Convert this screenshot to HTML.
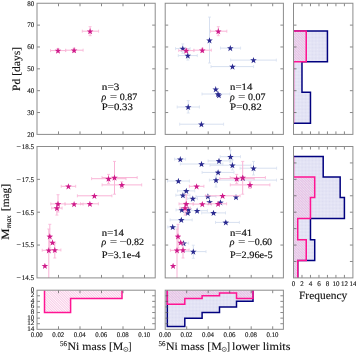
<!DOCTYPE html>
<html><head><meta charset="utf-8"><style>
html,body{margin:0;padding:0;background:#fff;width:356px;height:353px;overflow:hidden;font-family:"Liberation Serif",serif;}
svg{position:absolute;left:0;top:0;display:block;}
</style></head><body>
<svg width="356" height="353" viewBox="0 0 356 353" text-rendering="geometricPrecision"><g opacity="0.999">
<defs>
<pattern id="hp" patternUnits="userSpaceOnUse" width="1.8" height="1.8" patternTransform="rotate(-45)">
<rect width="1.8" height="1.8" fill="#ffbee1" fill-opacity="0.15"/><rect width="0.8" height="1.8" fill="#f096cd" fill-opacity="0.5"/></pattern>
<pattern id="hb" patternUnits="userSpaceOnUse" width="2.0" height="2.0" patternTransform="rotate(45)">
<rect width="2.0" height="2.0" fill="#eaeaf8"/><rect width="1" height="1" fill="#dcdcf1"/><rect x="1" y="1" width="1" height="1" fill="#dcdcf1"/></pattern>
<path id="st" d="M0.00,-3.15 L0.81,-0.82 L3.28,-0.77 L1.31,0.73 L2.03,3.09 L0.00,1.68 L-2.03,3.09 L-1.31,0.73 L-3.28,-0.77 L-0.81,-0.82 Z"/>
</defs>
<clipPath id="c13"><rect x="293.5" y="3.25" width="59.4" height="131.15"/></clipPath>
<clipPath id="c23"><rect x="293.5" y="146.5" width="59.4" height="131.4"/></clipPath>
<clipPath id="c31"><rect x="37.0" y="290.2" width="118.2" height="39.1"/></clipPath>
<clipPath id="c32"><rect x="165.2" y="290.2" width="118.2" height="39.1"/></clipPath>
<g clip-path="url(#c13)">
<path d="M293.5,31 L327.44,31 L327.44,61.8 L301.99,61.8 L301.99,92.3 L310.47,92.3 L310.47,123.3 L293.5,123.3 Z" fill="url(#hb)" stroke="none"/>
<path d="M293.5,31 L327.44,31 L327.44,61.8 L301.99,61.8 L301.99,92.3 L310.47,92.3 L310.47,123.3 L293.5,123.3" fill="none" stroke="#00007f" stroke-width="1.5" stroke-linejoin="miter"/>
<path d="M293.5,31 L306.23,31 L306.23,61.8 L293.5,61.8 L293.5,92.3 L293.5,92.3 L293.5,123.3 L293.5,123.3 Z" fill="url(#hp)" stroke="none"/>
<path d="M293.5,31 L306.23,31 L306.23,61.8 L293.5,61.8 L293.5,92.3 L293.5,92.3 L293.5,123.3 L293.5,123.3" fill="none" stroke="#ff1493" stroke-width="1.5" stroke-linejoin="miter"/>
</g>
<g clip-path="url(#c23)">
<path d="M293.5,156.5 L323.2,156.5 L323.2,177.1 L340.17,177.1 L340.17,197.6 L344.41,197.6 L344.41,218.5 L310.47,218.5 L310.47,239.8 L314.71,239.8 L314.71,260.6 L297.74,260.6 L297.74,281.4 L293.5,281.4 Z" fill="url(#hb)" stroke="none"/>
<path d="M293.5,156.5 L323.2,156.5 L323.2,177.1 L340.17,177.1 L340.17,197.6 L344.41,197.6 L344.41,218.5 L310.47,218.5 L310.47,239.8 L314.71,239.8 L314.71,260.6 L297.74,260.6 L297.74,281.4 L293.5,281.4" fill="none" stroke="#00007f" stroke-width="1.5" stroke-linejoin="miter"/>
<path d="M293.5,156.5 L293.5,156.5 L293.5,177.1 L314.71,177.1 L314.71,197.6 L310.47,197.6 L310.47,218.5 L297.74,218.5 L297.74,239.8 L306.23,239.8 L306.23,260.6 L297.74,260.6 L297.74,281.4 L293.5,281.4 Z" fill="url(#hp)" stroke="none"/>
<path d="M293.5,156.5 L293.5,156.5 L293.5,177.1 L314.71,177.1 L314.71,197.6 L310.47,197.6 L310.47,218.5 L297.74,218.5 L297.74,239.8 L306.23,239.8 L306.23,260.6 L297.74,260.6 L297.74,281.4 L293.5,281.4" fill="none" stroke="#ff1493" stroke-width="1.5" stroke-linejoin="miter"/>
</g>
<g clip-path="url(#c31)">
<path d="M44.5,290.2 L44.5,312.54 L70.6,312.54 L70.6,298.58 L96.5,298.58 L96.5,298.58 L122,298.58 L122,290.2 Z" fill="url(#hp)" stroke="none"/>
<path d="M44.5,290.2 L44.5,312.54 L70.6,312.54 L70.6,298.58 L96.5,298.58 L96.5,298.58 L122,298.58 L122,290.2" fill="none" stroke="#ff1493" stroke-width="1.5" stroke-linejoin="miter"/>
</g>
<g clip-path="url(#c32)">
<path d="M167.3,290.2 L167.3,326.51 L184.8,326.51 L184.8,318.13 L202.1,318.13 L202.1,312.54 L219.5,312.54 L219.5,306.96 L236.5,306.96 L236.5,301.37 L253,301.37 L253,290.2 Z" fill="url(#hb)" stroke="none"/>
<path d="M167.3,290.2 L167.3,326.51 L184.8,326.51 L184.8,318.13 L202.1,318.13 L202.1,312.54 L219.5,312.54 L219.5,306.96 L236.5,306.96 L236.5,301.37 L253,301.37 L253,290.2" fill="none" stroke="#00007f" stroke-width="1.5" stroke-linejoin="miter"/>
<path d="M167.3,290.2 L167.3,304.16 L184.8,304.16 L184.8,298.58 L202.1,298.58 L202.1,295.79 L219.5,295.79 L219.5,292.99 L236.5,292.99 L236.5,298.58 L253,298.58 L253,290.2 Z" fill="url(#hp)" stroke="none"/>
<path d="M167.3,290.2 L167.3,304.16 L184.8,304.16 L184.8,298.58 L202.1,298.58 L202.1,295.79 L219.5,295.79 L219.5,292.99 L236.5,292.99 L236.5,298.58 L253,298.58 L253,290.2" fill="none" stroke="#ff1493" stroke-width="1.5" stroke-linejoin="miter"/>
</g>
<clipPath id="c11"><rect x="37.0" y="3.25" width="118.2" height="131.15"/></clipPath>
<clipPath id="c12"><rect x="165.2" y="3.25" width="118.2" height="131.15"/></clipPath>
<clipPath id="c21"><rect x="37.0" y="146.5" width="118.2" height="131.4"/></clipPath>
<clipPath id="c22"><rect x="165.2" y="146.5" width="118.2" height="131.4"/></clipPath>
<g clip-path="url(#c11)">
<line x1="50.5" y1="50.6" x2="65.7" y2="50.6" stroke="#f9b3d6" stroke-width="1.0"/>
<line x1="50.5" y1="49.1" x2="50.5" y2="52.1" stroke="#f9b3d6" stroke-width="0.8"/>
<line x1="65.7" y1="49.1" x2="65.7" y2="52.1" stroke="#f9b3d6" stroke-width="0.8"/>
<line x1="58" y1="48.6" x2="58" y2="52.6" stroke="#f9b3d6" stroke-width="1.0"/>
<line x1="56.5" y1="48.6" x2="59.5" y2="48.6" stroke="#f9b3d6" stroke-width="0.8"/>
<line x1="56.5" y1="52.6" x2="59.5" y2="52.6" stroke="#f9b3d6" stroke-width="0.8"/>
<line x1="65.7" y1="50.2" x2="83.1" y2="50.2" stroke="#f9b3d6" stroke-width="1.0"/>
<line x1="65.7" y1="48.7" x2="65.7" y2="51.7" stroke="#f9b3d6" stroke-width="0.8"/>
<line x1="83.1" y1="48.7" x2="83.1" y2="51.7" stroke="#f9b3d6" stroke-width="0.8"/>
<line x1="74.1" y1="48.2" x2="74.1" y2="52.2" stroke="#f9b3d6" stroke-width="1.0"/>
<line x1="72.6" y1="48.2" x2="75.6" y2="48.2" stroke="#f9b3d6" stroke-width="0.8"/>
<line x1="72.6" y1="52.2" x2="75.6" y2="52.2" stroke="#f9b3d6" stroke-width="0.8"/>
<line x1="82.3" y1="31.2" x2="98.6" y2="31.2" stroke="#f9b3d6" stroke-width="1.0"/>
<line x1="82.3" y1="29.7" x2="82.3" y2="32.7" stroke="#f9b3d6" stroke-width="0.8"/>
<line x1="98.6" y1="29.7" x2="98.6" y2="32.7" stroke="#f9b3d6" stroke-width="0.8"/>
<line x1="90.1" y1="26.7" x2="90.1" y2="35.7" stroke="#f9b3d6" stroke-width="1.0"/>
<line x1="88.6" y1="26.7" x2="91.6" y2="26.7" stroke="#f9b3d6" stroke-width="0.8"/>
<line x1="88.6" y1="35.7" x2="91.6" y2="35.7" stroke="#f9b3d6" stroke-width="0.8"/>
<use href="#st" x="58" y="50.6" fill="#cf1a8a"/>
<use href="#st" x="74.1" y="50.2" fill="#cf1a8a"/>
<use href="#st" x="90.1" y="31.2" fill="#cf1a8a"/>
</g><g clip-path="url(#c12)">
<line x1="175.5" y1="48.6" x2="190.1" y2="48.6" stroke="#d7e0f0" stroke-width="1.0"/>
<line x1="175.5" y1="47.1" x2="175.5" y2="50.1" stroke="#d7e0f0" stroke-width="0.8"/>
<line x1="190.1" y1="47.1" x2="190.1" y2="50.1" stroke="#d7e0f0" stroke-width="0.8"/>
<line x1="182.8" y1="43.9" x2="182.8" y2="53.3" stroke="#d7e0f0" stroke-width="1.0"/>
<line x1="181.3" y1="43.9" x2="184.3" y2="43.9" stroke="#d7e0f0" stroke-width="0.8"/>
<line x1="181.3" y1="53.3" x2="184.3" y2="53.3" stroke="#d7e0f0" stroke-width="0.8"/>
<line x1="178.3" y1="55.6" x2="197.3" y2="55.6" stroke="#d7e0f0" stroke-width="1.0"/>
<line x1="178.3" y1="54.1" x2="178.3" y2="57.1" stroke="#d7e0f0" stroke-width="0.8"/>
<line x1="197.3" y1="54.1" x2="197.3" y2="57.1" stroke="#d7e0f0" stroke-width="0.8"/>
<line x1="187.8" y1="51" x2="187.8" y2="60.1" stroke="#d7e0f0" stroke-width="1.0"/>
<line x1="186.3" y1="51" x2="189.3" y2="51" stroke="#d7e0f0" stroke-width="0.8"/>
<line x1="186.3" y1="60.1" x2="189.3" y2="60.1" stroke="#d7e0f0" stroke-width="0.8"/>
<line x1="209.5" y1="17.1" x2="209.5" y2="63" stroke="#d7e0f0" stroke-width="1.0"/>
<line x1="208" y1="17.1" x2="211" y2="17.1" stroke="#d7e0f0" stroke-width="0.8"/>
<line x1="208" y1="63" x2="211" y2="63" stroke="#d7e0f0" stroke-width="0.8"/>
<line x1="220.5" y1="48.1" x2="240.6" y2="48.1" stroke="#d7e0f0" stroke-width="1.0"/>
<line x1="220.5" y1="46.6" x2="220.5" y2="49.6" stroke="#d7e0f0" stroke-width="0.8"/>
<line x1="240.6" y1="46.6" x2="240.6" y2="49.6" stroke="#d7e0f0" stroke-width="0.8"/>
<line x1="230.7" y1="60.1" x2="276.3" y2="60.1" stroke="#d7e0f0" stroke-width="1.0"/>
<line x1="230.7" y1="58.6" x2="230.7" y2="61.6" stroke="#d7e0f0" stroke-width="0.8"/>
<line x1="276.3" y1="58.6" x2="276.3" y2="61.6" stroke="#d7e0f0" stroke-width="0.8"/>
<line x1="211" y1="66.6" x2="253.6" y2="66.6" stroke="#d7e0f0" stroke-width="1.0"/>
<line x1="211" y1="65.1" x2="211" y2="68.1" stroke="#d7e0f0" stroke-width="0.8"/>
<line x1="253.6" y1="65.1" x2="253.6" y2="68.1" stroke="#d7e0f0" stroke-width="0.8"/>
<line x1="202" y1="94" x2="229.9" y2="94" stroke="#d7e0f0" stroke-width="1.0"/>
<line x1="202" y1="92.5" x2="202" y2="95.5" stroke="#d7e0f0" stroke-width="0.8"/>
<line x1="229.9" y1="92.5" x2="229.9" y2="95.5" stroke="#d7e0f0" stroke-width="0.8"/>
<line x1="177.2" y1="107" x2="199.4" y2="107" stroke="#d7e0f0" stroke-width="1.0"/>
<line x1="177.2" y1="105.5" x2="177.2" y2="108.5" stroke="#d7e0f0" stroke-width="0.8"/>
<line x1="199.4" y1="105.5" x2="199.4" y2="108.5" stroke="#d7e0f0" stroke-width="0.8"/>
<line x1="188.2" y1="100.6" x2="188.2" y2="113" stroke="#d7e0f0" stroke-width="1.0"/>
<line x1="186.7" y1="100.6" x2="189.7" y2="100.6" stroke="#d7e0f0" stroke-width="0.8"/>
<line x1="186.7" y1="113" x2="189.7" y2="113" stroke="#d7e0f0" stroke-width="0.8"/>
<line x1="179.7" y1="124.2" x2="223.6" y2="124.2" stroke="#d7e0f0" stroke-width="1.0"/>
<line x1="179.7" y1="122.7" x2="179.7" y2="125.7" stroke="#d7e0f0" stroke-width="0.8"/>
<line x1="223.6" y1="122.7" x2="223.6" y2="125.7" stroke="#d7e0f0" stroke-width="0.8"/>
<use href="#st" x="182.8" y="48.6" fill="#2a2a90"/>
<use href="#st" x="187.8" y="55.6" fill="#2a2a90"/>
<use href="#st" x="209.5" y="40.3" fill="#2a2a90"/>
<use href="#st" x="230.3" y="48.1" fill="#2a2a90"/>
<use href="#st" x="253.5" y="60.1" fill="#2a2a90"/>
<use href="#st" x="232.5" y="66.6" fill="#2a2a90"/>
<use href="#st" x="215.7" y="89.2" fill="#2a2a90"/>
<use href="#st" x="218" y="94" fill="#2a2a90"/>
<use href="#st" x="218.9" y="95.2" fill="#2a2a90"/>
<use href="#st" x="188.2" y="107" fill="#2a2a90"/>
<use href="#st" x="201.4" y="124.2" fill="#2a2a90"/>
<line x1="178.7" y1="50.6" x2="193.9" y2="50.6" stroke="#f9b3d6" stroke-width="1.0"/>
<line x1="178.7" y1="49.1" x2="178.7" y2="52.1" stroke="#f9b3d6" stroke-width="0.8"/>
<line x1="193.9" y1="49.1" x2="193.9" y2="52.1" stroke="#f9b3d6" stroke-width="0.8"/>
<line x1="186.2" y1="48.6" x2="186.2" y2="52.6" stroke="#f9b3d6" stroke-width="1.0"/>
<line x1="184.7" y1="48.6" x2="187.7" y2="48.6" stroke="#f9b3d6" stroke-width="0.8"/>
<line x1="184.7" y1="52.6" x2="187.7" y2="52.6" stroke="#f9b3d6" stroke-width="0.8"/>
<line x1="193.9" y1="50.2" x2="211.3" y2="50.2" stroke="#f9b3d6" stroke-width="1.0"/>
<line x1="193.9" y1="48.7" x2="193.9" y2="51.7" stroke="#f9b3d6" stroke-width="0.8"/>
<line x1="211.3" y1="48.7" x2="211.3" y2="51.7" stroke="#f9b3d6" stroke-width="0.8"/>
<line x1="202.3" y1="48.2" x2="202.3" y2="52.2" stroke="#f9b3d6" stroke-width="1.0"/>
<line x1="200.8" y1="48.2" x2="203.8" y2="48.2" stroke="#f9b3d6" stroke-width="0.8"/>
<line x1="200.8" y1="52.2" x2="203.8" y2="52.2" stroke="#f9b3d6" stroke-width="0.8"/>
<line x1="210.5" y1="31.2" x2="226.8" y2="31.2" stroke="#f9b3d6" stroke-width="1.0"/>
<line x1="210.5" y1="29.7" x2="210.5" y2="32.7" stroke="#f9b3d6" stroke-width="0.8"/>
<line x1="226.8" y1="29.7" x2="226.8" y2="32.7" stroke="#f9b3d6" stroke-width="0.8"/>
<line x1="218.3" y1="26.7" x2="218.3" y2="35.7" stroke="#f9b3d6" stroke-width="1.0"/>
<line x1="216.8" y1="26.7" x2="219.8" y2="26.7" stroke="#f9b3d6" stroke-width="0.8"/>
<line x1="216.8" y1="35.7" x2="219.8" y2="35.7" stroke="#f9b3d6" stroke-width="0.8"/>
<use href="#st" x="186.2" y="50.6" fill="#cf1a8a"/>
<use href="#st" x="202.3" y="50.2" fill="#cf1a8a"/>
<use href="#st" x="218.3" y="31.2" fill="#cf1a8a"/>
</g><g clip-path="url(#c21)">
<line x1="61.2" y1="186.3" x2="75.7" y2="186.3" stroke="#f9b3d6" stroke-width="1.0"/>
<line x1="61.2" y1="184.8" x2="61.2" y2="187.8" stroke="#f9b3d6" stroke-width="0.8"/>
<line x1="75.7" y1="184.8" x2="75.7" y2="187.8" stroke="#f9b3d6" stroke-width="0.8"/>
<line x1="50.8" y1="203.9" x2="65" y2="203.9" stroke="#f9b3d6" stroke-width="1.0"/>
<line x1="50.8" y1="202.4" x2="50.8" y2="205.4" stroke="#f9b3d6" stroke-width="0.8"/>
<line x1="65" y1="202.4" x2="65" y2="205.4" stroke="#f9b3d6" stroke-width="0.8"/>
<line x1="58" y1="194.7" x2="58" y2="212" stroke="#f9b3d6" stroke-width="1.0"/>
<line x1="56.5" y1="194.7" x2="59.5" y2="194.7" stroke="#f9b3d6" stroke-width="0.8"/>
<line x1="56.5" y1="212" x2="59.5" y2="212" stroke="#f9b3d6" stroke-width="0.8"/>
<line x1="51.7" y1="208.1" x2="62.1" y2="208.1" stroke="#f9b3d6" stroke-width="1.0"/>
<line x1="51.7" y1="206.6" x2="51.7" y2="209.6" stroke="#f9b3d6" stroke-width="0.8"/>
<line x1="62.1" y1="206.6" x2="62.1" y2="209.6" stroke="#f9b3d6" stroke-width="0.8"/>
<line x1="56.9" y1="203" x2="56.9" y2="215.1" stroke="#f9b3d6" stroke-width="1.0"/>
<line x1="55.4" y1="203" x2="58.4" y2="203" stroke="#f9b3d6" stroke-width="0.8"/>
<line x1="55.4" y1="215.1" x2="58.4" y2="215.1" stroke="#f9b3d6" stroke-width="0.8"/>
<line x1="65" y1="204.1" x2="83.1" y2="204.1" stroke="#f9b3d6" stroke-width="1.0"/>
<line x1="65" y1="202.6" x2="65" y2="205.6" stroke="#f9b3d6" stroke-width="0.8"/>
<line x1="83.1" y1="202.6" x2="83.1" y2="205.6" stroke="#f9b3d6" stroke-width="0.8"/>
<line x1="80.5" y1="203.8" x2="98.4" y2="203.8" stroke="#f9b3d6" stroke-width="1.0"/>
<line x1="80.5" y1="202.3" x2="80.5" y2="205.3" stroke="#f9b3d6" stroke-width="0.8"/>
<line x1="98.4" y1="202.3" x2="98.4" y2="205.3" stroke="#f9b3d6" stroke-width="0.8"/>
<line x1="77.4" y1="195.8" x2="111.9" y2="195.8" stroke="#f9b3d6" stroke-width="1.0"/>
<line x1="77.4" y1="194.3" x2="77.4" y2="197.3" stroke="#f9b3d6" stroke-width="0.8"/>
<line x1="111.9" y1="194.3" x2="111.9" y2="197.3" stroke="#f9b3d6" stroke-width="0.8"/>
<line x1="91.6" y1="178.7" x2="126" y2="178.7" stroke="#f9b3d6" stroke-width="1.0"/>
<line x1="91.6" y1="177.2" x2="91.6" y2="180.2" stroke="#f9b3d6" stroke-width="0.8"/>
<line x1="126" y1="177.2" x2="126" y2="180.2" stroke="#f9b3d6" stroke-width="0.8"/>
<line x1="108.5" y1="174.4" x2="108.5" y2="183.4" stroke="#f9b3d6" stroke-width="1.0"/>
<line x1="107" y1="174.4" x2="110" y2="174.4" stroke="#f9b3d6" stroke-width="0.8"/>
<line x1="107" y1="183.4" x2="110" y2="183.4" stroke="#f9b3d6" stroke-width="0.8"/>
<line x1="102" y1="177.6" x2="137.2" y2="177.6" stroke="#f9b3d6" stroke-width="1.0"/>
<line x1="102" y1="176.1" x2="102" y2="179.1" stroke="#f9b3d6" stroke-width="0.8"/>
<line x1="137.2" y1="176.1" x2="137.2" y2="179.1" stroke="#f9b3d6" stroke-width="0.8"/>
<line x1="114.5" y1="161.4" x2="114.5" y2="194.2" stroke="#f9b3d6" stroke-width="1.0"/>
<line x1="113" y1="161.4" x2="116" y2="161.4" stroke="#f9b3d6" stroke-width="0.8"/>
<line x1="113" y1="194.2" x2="116" y2="194.2" stroke="#f9b3d6" stroke-width="0.8"/>
<line x1="102.1" y1="184.9" x2="141.7" y2="184.9" stroke="#f9b3d6" stroke-width="1.0"/>
<line x1="102.1" y1="183.4" x2="102.1" y2="186.4" stroke="#f9b3d6" stroke-width="0.8"/>
<line x1="141.7" y1="183.4" x2="141.7" y2="186.4" stroke="#f9b3d6" stroke-width="0.8"/>
<line x1="121.8" y1="181.7" x2="121.8" y2="188.4" stroke="#f9b3d6" stroke-width="1.0"/>
<line x1="120.3" y1="181.7" x2="123.3" y2="181.7" stroke="#f9b3d6" stroke-width="0.8"/>
<line x1="120.3" y1="188.4" x2="123.3" y2="188.4" stroke="#f9b3d6" stroke-width="0.8"/>
<line x1="49.8" y1="224.3" x2="49.8" y2="248" stroke="#f9b3d6" stroke-width="1.0"/>
<line x1="48.3" y1="224.3" x2="51.3" y2="224.3" stroke="#f9b3d6" stroke-width="0.8"/>
<line x1="48.3" y1="248" x2="51.3" y2="248" stroke="#f9b3d6" stroke-width="0.8"/>
<line x1="42.2" y1="250.3" x2="55" y2="250.3" stroke="#f9b3d6" stroke-width="1.0"/>
<line x1="42.2" y1="248.8" x2="42.2" y2="251.8" stroke="#f9b3d6" stroke-width="0.8"/>
<line x1="55" y1="248.8" x2="55" y2="251.8" stroke="#f9b3d6" stroke-width="0.8"/>
<line x1="48.8" y1="229" x2="48.8" y2="281" stroke="#f9b3d6" stroke-width="1.0"/>
<line x1="47.3" y1="229" x2="50.3" y2="229" stroke="#f9b3d6" stroke-width="0.8"/>
<line x1="47.3" y1="281" x2="50.3" y2="281" stroke="#f9b3d6" stroke-width="0.8"/>
<line x1="48" y1="250" x2="60.9" y2="250" stroke="#f9b3d6" stroke-width="1.0"/>
<line x1="48" y1="248.5" x2="48" y2="251.5" stroke="#f9b3d6" stroke-width="0.8"/>
<line x1="60.9" y1="248.5" x2="60.9" y2="251.5" stroke="#f9b3d6" stroke-width="0.8"/>
<line x1="54.8" y1="243" x2="54.8" y2="258" stroke="#f9b3d6" stroke-width="1.0"/>
<line x1="53.3" y1="243" x2="56.3" y2="243" stroke="#f9b3d6" stroke-width="0.8"/>
<line x1="53.3" y1="258" x2="56.3" y2="258" stroke="#f9b3d6" stroke-width="0.8"/>
<use href="#st" x="68.4" y="186.3" fill="#cf1a8a"/>
<use href="#st" x="58" y="203.9" fill="#cf1a8a"/>
<use href="#st" x="56.9" y="208.1" fill="#cf1a8a"/>
<use href="#st" x="74.1" y="204.1" fill="#cf1a8a"/>
<use href="#st" x="89.9" y="203.8" fill="#cf1a8a"/>
<use href="#st" x="94.4" y="195.8" fill="#cf1a8a"/>
<use href="#st" x="108.5" y="178.7" fill="#cf1a8a"/>
<use href="#st" x="114.5" y="177.6" fill="#cf1a8a"/>
<use href="#st" x="121.8" y="184.9" fill="#cf1a8a"/>
<use href="#st" x="49.8" y="236.4" fill="#cf1a8a"/>
<use href="#st" x="52.5" y="242.5" fill="#cf1a8a"/>
<use href="#st" x="48.8" y="250.3" fill="#cf1a8a"/>
<use href="#st" x="54.8" y="250" fill="#cf1a8a"/>
<use href="#st" x="44.9" y="265.8" fill="#cf1a8a"/>
</g><g clip-path="url(#c22)">
<line x1="174.6" y1="159.2" x2="185.6" y2="159.2" stroke="#d7e0f0" stroke-width="1.0"/>
<line x1="174.6" y1="157.7" x2="174.6" y2="160.7" stroke="#d7e0f0" stroke-width="0.8"/>
<line x1="185.6" y1="157.7" x2="185.6" y2="160.7" stroke="#d7e0f0" stroke-width="0.8"/>
<line x1="180.3" y1="164" x2="222.9" y2="164" stroke="#d7e0f0" stroke-width="1.0"/>
<line x1="180.3" y1="162.5" x2="180.3" y2="165.5" stroke="#d7e0f0" stroke-width="0.8"/>
<line x1="222.9" y1="162.5" x2="222.9" y2="165.5" stroke="#d7e0f0" stroke-width="0.8"/>
<line x1="167.5" y1="181" x2="189.4" y2="181" stroke="#d7e0f0" stroke-width="1.0"/>
<line x1="167.5" y1="179.5" x2="167.5" y2="182.5" stroke="#d7e0f0" stroke-width="0.8"/>
<line x1="189.4" y1="179.5" x2="189.4" y2="182.5" stroke="#d7e0f0" stroke-width="0.8"/>
<line x1="208.1" y1="160.9" x2="230" y2="160.9" stroke="#d7e0f0" stroke-width="1.0"/>
<line x1="208.1" y1="159.4" x2="208.1" y2="162.4" stroke="#d7e0f0" stroke-width="0.8"/>
<line x1="230" y1="159.4" x2="230" y2="162.4" stroke="#d7e0f0" stroke-width="0.8"/>
<line x1="220.2" y1="156.7" x2="240.5" y2="156.7" stroke="#d7e0f0" stroke-width="1.0"/>
<line x1="220.2" y1="155.2" x2="220.2" y2="158.2" stroke="#d7e0f0" stroke-width="0.8"/>
<line x1="240.5" y1="155.2" x2="240.5" y2="158.2" stroke="#d7e0f0" stroke-width="0.8"/>
<line x1="230.5" y1="150" x2="230.5" y2="162" stroke="#d7e0f0" stroke-width="1.0"/>
<line x1="229" y1="150" x2="232" y2="150" stroke="#d7e0f0" stroke-width="0.8"/>
<line x1="229" y1="162" x2="232" y2="162" stroke="#d7e0f0" stroke-width="0.8"/>
<line x1="210" y1="165.2" x2="251" y2="165.2" stroke="#d7e0f0" stroke-width="1.0"/>
<line x1="210" y1="163.7" x2="210" y2="166.7" stroke="#d7e0f0" stroke-width="0.8"/>
<line x1="251" y1="163.7" x2="251" y2="166.7" stroke="#d7e0f0" stroke-width="0.8"/>
<line x1="232.4" y1="160" x2="232.4" y2="170" stroke="#d7e0f0" stroke-width="1.0"/>
<line x1="230.9" y1="160" x2="233.9" y2="160" stroke="#d7e0f0" stroke-width="0.8"/>
<line x1="230.9" y1="170" x2="233.9" y2="170" stroke="#d7e0f0" stroke-width="0.8"/>
<line x1="202.1" y1="172.4" x2="234" y2="172.4" stroke="#d7e0f0" stroke-width="1.0"/>
<line x1="202.1" y1="170.9" x2="202.1" y2="173.9" stroke="#d7e0f0" stroke-width="0.8"/>
<line x1="234" y1="170.9" x2="234" y2="173.9" stroke="#d7e0f0" stroke-width="0.8"/>
<line x1="209.4" y1="180.1" x2="276.5" y2="180.1" stroke="#d7e0f0" stroke-width="1.0"/>
<line x1="209.4" y1="178.6" x2="209.4" y2="181.6" stroke="#d7e0f0" stroke-width="0.8"/>
<line x1="276.5" y1="178.6" x2="276.5" y2="181.6" stroke="#d7e0f0" stroke-width="0.8"/>
<line x1="216" y1="176" x2="216" y2="187" stroke="#d7e0f0" stroke-width="1.0"/>
<line x1="214.5" y1="176" x2="217.5" y2="176" stroke="#d7e0f0" stroke-width="0.8"/>
<line x1="214.5" y1="187" x2="217.5" y2="187" stroke="#d7e0f0" stroke-width="0.8"/>
<line x1="240" y1="168.2" x2="276.6" y2="168.2" stroke="#d7e0f0" stroke-width="1.0"/>
<line x1="240" y1="166.7" x2="240" y2="169.7" stroke="#d7e0f0" stroke-width="0.8"/>
<line x1="276.6" y1="166.7" x2="276.6" y2="169.7" stroke="#d7e0f0" stroke-width="0.8"/>
<line x1="253.5" y1="161.4" x2="253.5" y2="175" stroke="#d7e0f0" stroke-width="1.0"/>
<line x1="252" y1="161.4" x2="255" y2="161.4" stroke="#d7e0f0" stroke-width="0.8"/>
<line x1="252" y1="175" x2="255" y2="175" stroke="#d7e0f0" stroke-width="0.8"/>
<line x1="177.5" y1="190.9" x2="194.7" y2="190.9" stroke="#d7e0f0" stroke-width="1.0"/>
<line x1="177.5" y1="189.4" x2="177.5" y2="192.4" stroke="#d7e0f0" stroke-width="0.8"/>
<line x1="194.7" y1="189.4" x2="194.7" y2="192.4" stroke="#d7e0f0" stroke-width="0.8"/>
<line x1="175.8" y1="195.2" x2="190" y2="195.2" stroke="#d7e0f0" stroke-width="1.0"/>
<line x1="175.8" y1="193.7" x2="175.8" y2="196.7" stroke="#d7e0f0" stroke-width="0.8"/>
<line x1="190" y1="193.7" x2="190" y2="196.7" stroke="#d7e0f0" stroke-width="0.8"/>
<line x1="187.7" y1="198.6" x2="197.5" y2="198.6" stroke="#d7e0f0" stroke-width="1.0"/>
<line x1="187.7" y1="197.1" x2="187.7" y2="200.1" stroke="#d7e0f0" stroke-width="0.8"/>
<line x1="197.5" y1="197.1" x2="197.5" y2="200.1" stroke="#d7e0f0" stroke-width="0.8"/>
<line x1="176" y1="209.9" x2="188" y2="209.9" stroke="#d7e0f0" stroke-width="1.0"/>
<line x1="176" y1="208.4" x2="176" y2="211.4" stroke="#d7e0f0" stroke-width="0.8"/>
<line x1="188" y1="208.4" x2="188" y2="211.4" stroke="#d7e0f0" stroke-width="0.8"/>
<line x1="188" y1="210.7" x2="207.4" y2="210.7" stroke="#d7e0f0" stroke-width="1.0"/>
<line x1="188" y1="209.2" x2="188" y2="212.2" stroke="#d7e0f0" stroke-width="0.8"/>
<line x1="207.4" y1="209.2" x2="207.4" y2="212.2" stroke="#d7e0f0" stroke-width="0.8"/>
<line x1="170.1" y1="219.9" x2="192.2" y2="219.9" stroke="#d7e0f0" stroke-width="1.0"/>
<line x1="170.1" y1="218.4" x2="170.1" y2="221.4" stroke="#d7e0f0" stroke-width="0.8"/>
<line x1="192.2" y1="218.4" x2="192.2" y2="221.4" stroke="#d7e0f0" stroke-width="0.8"/>
<line x1="167.8" y1="227" x2="178" y2="227" stroke="#d7e0f0" stroke-width="1.0"/>
<line x1="167.8" y1="225.5" x2="167.8" y2="228.5" stroke="#d7e0f0" stroke-width="0.8"/>
<line x1="178" y1="225.5" x2="178" y2="228.5" stroke="#d7e0f0" stroke-width="0.8"/>
<line x1="196" y1="196.4" x2="216" y2="196.4" stroke="#d7e0f0" stroke-width="1.0"/>
<line x1="196" y1="194.9" x2="196" y2="197.9" stroke="#d7e0f0" stroke-width="0.8"/>
<line x1="216" y1="194.9" x2="216" y2="197.9" stroke="#d7e0f0" stroke-width="0.8"/>
<line x1="201.7" y1="212.9" x2="225.5" y2="212.9" stroke="#d7e0f0" stroke-width="1.0"/>
<line x1="201.7" y1="211.4" x2="201.7" y2="214.4" stroke="#d7e0f0" stroke-width="0.8"/>
<line x1="225.5" y1="211.4" x2="225.5" y2="214.4" stroke="#d7e0f0" stroke-width="0.8"/>
<line x1="215.5" y1="222.4" x2="239.4" y2="222.4" stroke="#d7e0f0" stroke-width="1.0"/>
<line x1="215.5" y1="220.9" x2="215.5" y2="223.9" stroke="#d7e0f0" stroke-width="0.8"/>
<line x1="239.4" y1="220.9" x2="239.4" y2="223.9" stroke="#d7e0f0" stroke-width="0.8"/>
<line x1="179" y1="243.2" x2="188.6" y2="243.2" stroke="#d7e0f0" stroke-width="1.0"/>
<line x1="179" y1="241.7" x2="179" y2="244.7" stroke="#d7e0f0" stroke-width="0.8"/>
<line x1="188.6" y1="241.7" x2="188.6" y2="244.7" stroke="#d7e0f0" stroke-width="0.8"/>
<line x1="182" y1="251.6" x2="206" y2="251.6" stroke="#d7e0f0" stroke-width="1.0"/>
<line x1="182" y1="250.1" x2="182" y2="253.1" stroke="#d7e0f0" stroke-width="0.8"/>
<line x1="206" y1="250.1" x2="206" y2="253.1" stroke="#d7e0f0" stroke-width="0.8"/>
<line x1="193.3" y1="245.2" x2="193.3" y2="258.3" stroke="#d7e0f0" stroke-width="1.0"/>
<line x1="191.8" y1="245.2" x2="194.8" y2="245.2" stroke="#d7e0f0" stroke-width="0.8"/>
<line x1="191.8" y1="258.3" x2="194.8" y2="258.3" stroke="#d7e0f0" stroke-width="0.8"/>
<use href="#st" x="180.3" y="159.2" fill="#2a2a90"/>
<use href="#st" x="201.5" y="164" fill="#2a2a90"/>
<use href="#st" x="178.4" y="181" fill="#2a2a90"/>
<use href="#st" x="219" y="160.9" fill="#2a2a90"/>
<use href="#st" x="230.5" y="156.7" fill="#2a2a90"/>
<use href="#st" x="232.4" y="165.2" fill="#2a2a90"/>
<use href="#st" x="218.1" y="172.4" fill="#2a2a90"/>
<use href="#st" x="216" y="180.1" fill="#2a2a90"/>
<use href="#st" x="253.5" y="168.2" fill="#2a2a90"/>
<use href="#st" x="186.3" y="190.9" fill="#2a2a90"/>
<use href="#st" x="182.9" y="195.2" fill="#2a2a90"/>
<use href="#st" x="192.8" y="198.6" fill="#2a2a90"/>
<use href="#st" x="181.8" y="209.9" fill="#2a2a90"/>
<use href="#st" x="188.6" y="209.6" fill="#2a2a90"/>
<use href="#st" x="187.7" y="212.9" fill="#2a2a90"/>
<use href="#st" x="197.1" y="210.7" fill="#2a2a90"/>
<use href="#st" x="181.3" y="219.9" fill="#2a2a90"/>
<use href="#st" x="172.7" y="227" fill="#2a2a90"/>
<use href="#st" x="207.9" y="196.4" fill="#2a2a90"/>
<use href="#st" x="236" y="197.1" fill="#2a2a90"/>
<use href="#st" x="209.6" y="202.1" fill="#2a2a90"/>
<use href="#st" x="220.4" y="202.4" fill="#2a2a90"/>
<use href="#st" x="213.5" y="212.9" fill="#2a2a90"/>
<use href="#st" x="225.8" y="222.4" fill="#2a2a90"/>
<use href="#st" x="183.6" y="243.2" fill="#2a2a90"/>
<use href="#st" x="193.3" y="251.6" fill="#2a2a90"/>
<use href="#st" x="242.8" y="178" fill="#2a2a90"/>
<line x1="189.4" y1="186.3" x2="203.9" y2="186.3" stroke="#f9b3d6" stroke-width="1.0"/>
<line x1="189.4" y1="184.8" x2="189.4" y2="187.8" stroke="#f9b3d6" stroke-width="0.8"/>
<line x1="203.9" y1="184.8" x2="203.9" y2="187.8" stroke="#f9b3d6" stroke-width="0.8"/>
<line x1="179" y1="203.9" x2="193.2" y2="203.9" stroke="#f9b3d6" stroke-width="1.0"/>
<line x1="179" y1="202.4" x2="179" y2="205.4" stroke="#f9b3d6" stroke-width="0.8"/>
<line x1="193.2" y1="202.4" x2="193.2" y2="205.4" stroke="#f9b3d6" stroke-width="0.8"/>
<line x1="186.2" y1="194.7" x2="186.2" y2="212" stroke="#f9b3d6" stroke-width="1.0"/>
<line x1="184.7" y1="194.7" x2="187.7" y2="194.7" stroke="#f9b3d6" stroke-width="0.8"/>
<line x1="184.7" y1="212" x2="187.7" y2="212" stroke="#f9b3d6" stroke-width="0.8"/>
<line x1="179.9" y1="208.1" x2="190.3" y2="208.1" stroke="#f9b3d6" stroke-width="1.0"/>
<line x1="179.9" y1="206.6" x2="179.9" y2="209.6" stroke="#f9b3d6" stroke-width="0.8"/>
<line x1="190.3" y1="206.6" x2="190.3" y2="209.6" stroke="#f9b3d6" stroke-width="0.8"/>
<line x1="185.1" y1="203" x2="185.1" y2="215.1" stroke="#f9b3d6" stroke-width="1.0"/>
<line x1="183.6" y1="203" x2="186.6" y2="203" stroke="#f9b3d6" stroke-width="0.8"/>
<line x1="183.6" y1="215.1" x2="186.6" y2="215.1" stroke="#f9b3d6" stroke-width="0.8"/>
<line x1="193.2" y1="204.1" x2="211.3" y2="204.1" stroke="#f9b3d6" stroke-width="1.0"/>
<line x1="193.2" y1="202.6" x2="193.2" y2="205.6" stroke="#f9b3d6" stroke-width="0.8"/>
<line x1="211.3" y1="202.6" x2="211.3" y2="205.6" stroke="#f9b3d6" stroke-width="0.8"/>
<line x1="208.7" y1="203.8" x2="226.6" y2="203.8" stroke="#f9b3d6" stroke-width="1.0"/>
<line x1="208.7" y1="202.3" x2="208.7" y2="205.3" stroke="#f9b3d6" stroke-width="0.8"/>
<line x1="226.6" y1="202.3" x2="226.6" y2="205.3" stroke="#f9b3d6" stroke-width="0.8"/>
<line x1="205.6" y1="195.8" x2="240.1" y2="195.8" stroke="#f9b3d6" stroke-width="1.0"/>
<line x1="205.6" y1="194.3" x2="205.6" y2="197.3" stroke="#f9b3d6" stroke-width="0.8"/>
<line x1="240.1" y1="194.3" x2="240.1" y2="197.3" stroke="#f9b3d6" stroke-width="0.8"/>
<line x1="219.8" y1="178.7" x2="254.2" y2="178.7" stroke="#f9b3d6" stroke-width="1.0"/>
<line x1="219.8" y1="177.2" x2="219.8" y2="180.2" stroke="#f9b3d6" stroke-width="0.8"/>
<line x1="254.2" y1="177.2" x2="254.2" y2="180.2" stroke="#f9b3d6" stroke-width="0.8"/>
<line x1="236.7" y1="174.4" x2="236.7" y2="183.4" stroke="#f9b3d6" stroke-width="1.0"/>
<line x1="235.2" y1="174.4" x2="238.2" y2="174.4" stroke="#f9b3d6" stroke-width="0.8"/>
<line x1="235.2" y1="183.4" x2="238.2" y2="183.4" stroke="#f9b3d6" stroke-width="0.8"/>
<line x1="230.2" y1="177.6" x2="265.4" y2="177.6" stroke="#f9b3d6" stroke-width="1.0"/>
<line x1="230.2" y1="176.1" x2="230.2" y2="179.1" stroke="#f9b3d6" stroke-width="0.8"/>
<line x1="265.4" y1="176.1" x2="265.4" y2="179.1" stroke="#f9b3d6" stroke-width="0.8"/>
<line x1="242.7" y1="161.4" x2="242.7" y2="194.2" stroke="#f9b3d6" stroke-width="1.0"/>
<line x1="241.2" y1="161.4" x2="244.2" y2="161.4" stroke="#f9b3d6" stroke-width="0.8"/>
<line x1="241.2" y1="194.2" x2="244.2" y2="194.2" stroke="#f9b3d6" stroke-width="0.8"/>
<line x1="230.3" y1="184.9" x2="269.9" y2="184.9" stroke="#f9b3d6" stroke-width="1.0"/>
<line x1="230.3" y1="183.4" x2="230.3" y2="186.4" stroke="#f9b3d6" stroke-width="0.8"/>
<line x1="269.9" y1="183.4" x2="269.9" y2="186.4" stroke="#f9b3d6" stroke-width="0.8"/>
<line x1="250" y1="181.7" x2="250" y2="188.4" stroke="#f9b3d6" stroke-width="1.0"/>
<line x1="248.5" y1="181.7" x2="251.5" y2="181.7" stroke="#f9b3d6" stroke-width="0.8"/>
<line x1="248.5" y1="188.4" x2="251.5" y2="188.4" stroke="#f9b3d6" stroke-width="0.8"/>
<line x1="178" y1="224.3" x2="178" y2="248" stroke="#f9b3d6" stroke-width="1.0"/>
<line x1="176.5" y1="224.3" x2="179.5" y2="224.3" stroke="#f9b3d6" stroke-width="0.8"/>
<line x1="176.5" y1="248" x2="179.5" y2="248" stroke="#f9b3d6" stroke-width="0.8"/>
<line x1="170.4" y1="250.3" x2="183.2" y2="250.3" stroke="#f9b3d6" stroke-width="1.0"/>
<line x1="170.4" y1="248.8" x2="170.4" y2="251.8" stroke="#f9b3d6" stroke-width="0.8"/>
<line x1="183.2" y1="248.8" x2="183.2" y2="251.8" stroke="#f9b3d6" stroke-width="0.8"/>
<line x1="177" y1="229" x2="177" y2="281" stroke="#f9b3d6" stroke-width="1.0"/>
<line x1="175.5" y1="229" x2="178.5" y2="229" stroke="#f9b3d6" stroke-width="0.8"/>
<line x1="175.5" y1="281" x2="178.5" y2="281" stroke="#f9b3d6" stroke-width="0.8"/>
<line x1="176.2" y1="250" x2="189.1" y2="250" stroke="#f9b3d6" stroke-width="1.0"/>
<line x1="176.2" y1="248.5" x2="176.2" y2="251.5" stroke="#f9b3d6" stroke-width="0.8"/>
<line x1="189.1" y1="248.5" x2="189.1" y2="251.5" stroke="#f9b3d6" stroke-width="0.8"/>
<line x1="183" y1="243" x2="183" y2="258" stroke="#f9b3d6" stroke-width="1.0"/>
<line x1="181.5" y1="243" x2="184.5" y2="243" stroke="#f9b3d6" stroke-width="0.8"/>
<line x1="181.5" y1="258" x2="184.5" y2="258" stroke="#f9b3d6" stroke-width="0.8"/>
<use href="#st" x="196.6" y="186.3" fill="#cf1a8a"/>
<use href="#st" x="186.2" y="203.9" fill="#cf1a8a"/>
<use href="#st" x="185.1" y="208.1" fill="#cf1a8a"/>
<use href="#st" x="202.3" y="204.1" fill="#cf1a8a"/>
<use href="#st" x="218.1" y="203.8" fill="#cf1a8a"/>
<use href="#st" x="222.6" y="195.8" fill="#cf1a8a"/>
<use href="#st" x="236.7" y="178.7" fill="#cf1a8a"/>
<use href="#st" x="242.7" y="177.6" fill="#cf1a8a"/>
<use href="#st" x="250" y="184.9" fill="#cf1a8a"/>
<use href="#st" x="178" y="236.4" fill="#cf1a8a"/>
<use href="#st" x="180.7" y="242.5" fill="#cf1a8a"/>
<use href="#st" x="177" y="250.3" fill="#cf1a8a"/>
<use href="#st" x="183" y="250" fill="#cf1a8a"/>
<use href="#st" x="173.1" y="265.8" fill="#cf1a8a"/>
</g>
<line x1="58.5" y1="3.25" x2="58.5" y2="6.25" stroke="#555" stroke-width="0.7"/>
<line x1="58.5" y1="134.4" x2="58.5" y2="131.4" stroke="#555" stroke-width="0.7"/>
<line x1="80" y1="3.25" x2="80" y2="6.25" stroke="#555" stroke-width="0.7"/>
<line x1="80" y1="134.4" x2="80" y2="131.4" stroke="#555" stroke-width="0.7"/>
<line x1="101.5" y1="3.25" x2="101.5" y2="6.25" stroke="#555" stroke-width="0.7"/>
<line x1="101.5" y1="134.4" x2="101.5" y2="131.4" stroke="#555" stroke-width="0.7"/>
<line x1="123" y1="3.25" x2="123" y2="6.25" stroke="#555" stroke-width="0.7"/>
<line x1="123" y1="134.4" x2="123" y2="131.4" stroke="#555" stroke-width="0.7"/>
<line x1="144.5" y1="3.25" x2="144.5" y2="6.25" stroke="#555" stroke-width="0.7"/>
<line x1="144.5" y1="134.4" x2="144.5" y2="131.4" stroke="#555" stroke-width="0.7"/>
<line x1="37" y1="112.54" x2="40" y2="112.54" stroke="#555" stroke-width="0.7"/>
<line x1="155.2" y1="112.54" x2="152.2" y2="112.54" stroke="#555" stroke-width="0.7"/>
<line x1="37" y1="90.68" x2="40" y2="90.68" stroke="#555" stroke-width="0.7"/>
<line x1="155.2" y1="90.68" x2="152.2" y2="90.68" stroke="#555" stroke-width="0.7"/>
<line x1="37" y1="68.83" x2="40" y2="68.83" stroke="#555" stroke-width="0.7"/>
<line x1="155.2" y1="68.83" x2="152.2" y2="68.83" stroke="#555" stroke-width="0.7"/>
<line x1="37" y1="46.97" x2="40" y2="46.97" stroke="#555" stroke-width="0.7"/>
<line x1="155.2" y1="46.97" x2="152.2" y2="46.97" stroke="#555" stroke-width="0.7"/>
<line x1="37" y1="25.11" x2="40" y2="25.11" stroke="#555" stroke-width="0.7"/>
<line x1="155.2" y1="25.11" x2="152.2" y2="25.11" stroke="#555" stroke-width="0.7"/>
<line x1="58.5" y1="146.5" x2="58.5" y2="149.5" stroke="#555" stroke-width="0.7"/>
<line x1="58.5" y1="277.9" x2="58.5" y2="274.9" stroke="#555" stroke-width="0.7"/>
<line x1="80" y1="146.5" x2="80" y2="149.5" stroke="#555" stroke-width="0.7"/>
<line x1="80" y1="277.9" x2="80" y2="274.9" stroke="#555" stroke-width="0.7"/>
<line x1="101.5" y1="146.5" x2="101.5" y2="149.5" stroke="#555" stroke-width="0.7"/>
<line x1="101.5" y1="277.9" x2="101.5" y2="274.9" stroke="#555" stroke-width="0.7"/>
<line x1="123" y1="146.5" x2="123" y2="149.5" stroke="#555" stroke-width="0.7"/>
<line x1="123" y1="277.9" x2="123" y2="274.9" stroke="#555" stroke-width="0.7"/>
<line x1="144.5" y1="146.5" x2="144.5" y2="149.5" stroke="#555" stroke-width="0.7"/>
<line x1="144.5" y1="277.9" x2="144.5" y2="274.9" stroke="#555" stroke-width="0.7"/>
<line x1="37" y1="179.35" x2="40" y2="179.35" stroke="#555" stroke-width="0.7"/>
<line x1="155.2" y1="179.35" x2="152.2" y2="179.35" stroke="#555" stroke-width="0.7"/>
<line x1="37" y1="212.2" x2="40" y2="212.2" stroke="#555" stroke-width="0.7"/>
<line x1="155.2" y1="212.2" x2="152.2" y2="212.2" stroke="#555" stroke-width="0.7"/>
<line x1="37" y1="245.05" x2="40" y2="245.05" stroke="#555" stroke-width="0.7"/>
<line x1="155.2" y1="245.05" x2="152.2" y2="245.05" stroke="#555" stroke-width="0.7"/>
<line x1="58.5" y1="290.2" x2="58.5" y2="293.2" stroke="#555" stroke-width="0.7"/>
<line x1="58.5" y1="329.3" x2="58.5" y2="326.3" stroke="#555" stroke-width="0.7"/>
<line x1="80" y1="290.2" x2="80" y2="293.2" stroke="#555" stroke-width="0.7"/>
<line x1="80" y1="329.3" x2="80" y2="326.3" stroke="#555" stroke-width="0.7"/>
<line x1="101.5" y1="290.2" x2="101.5" y2="293.2" stroke="#555" stroke-width="0.7"/>
<line x1="101.5" y1="329.3" x2="101.5" y2="326.3" stroke="#555" stroke-width="0.7"/>
<line x1="123" y1="290.2" x2="123" y2="293.2" stroke="#555" stroke-width="0.7"/>
<line x1="123" y1="329.3" x2="123" y2="326.3" stroke="#555" stroke-width="0.7"/>
<line x1="144.5" y1="290.2" x2="144.5" y2="293.2" stroke="#555" stroke-width="0.7"/>
<line x1="144.5" y1="329.3" x2="144.5" y2="326.3" stroke="#555" stroke-width="0.7"/>
<line x1="37" y1="295.79" x2="40" y2="295.79" stroke="#555" stroke-width="0.7"/>
<line x1="155.2" y1="295.79" x2="152.2" y2="295.79" stroke="#555" stroke-width="0.7"/>
<line x1="37" y1="301.37" x2="40" y2="301.37" stroke="#555" stroke-width="0.7"/>
<line x1="155.2" y1="301.37" x2="152.2" y2="301.37" stroke="#555" stroke-width="0.7"/>
<line x1="37" y1="306.96" x2="40" y2="306.96" stroke="#555" stroke-width="0.7"/>
<line x1="155.2" y1="306.96" x2="152.2" y2="306.96" stroke="#555" stroke-width="0.7"/>
<line x1="37" y1="312.54" x2="40" y2="312.54" stroke="#555" stroke-width="0.7"/>
<line x1="155.2" y1="312.54" x2="152.2" y2="312.54" stroke="#555" stroke-width="0.7"/>
<line x1="37" y1="318.13" x2="40" y2="318.13" stroke="#555" stroke-width="0.7"/>
<line x1="155.2" y1="318.13" x2="152.2" y2="318.13" stroke="#555" stroke-width="0.7"/>
<line x1="37" y1="323.71" x2="40" y2="323.71" stroke="#555" stroke-width="0.7"/>
<line x1="155.2" y1="323.71" x2="152.2" y2="323.71" stroke="#555" stroke-width="0.7"/>
<line x1="186.7" y1="3.25" x2="186.7" y2="6.25" stroke="#555" stroke-width="0.7"/>
<line x1="186.7" y1="134.4" x2="186.7" y2="131.4" stroke="#555" stroke-width="0.7"/>
<line x1="208.2" y1="3.25" x2="208.2" y2="6.25" stroke="#555" stroke-width="0.7"/>
<line x1="208.2" y1="134.4" x2="208.2" y2="131.4" stroke="#555" stroke-width="0.7"/>
<line x1="229.7" y1="3.25" x2="229.7" y2="6.25" stroke="#555" stroke-width="0.7"/>
<line x1="229.7" y1="134.4" x2="229.7" y2="131.4" stroke="#555" stroke-width="0.7"/>
<line x1="251.2" y1="3.25" x2="251.2" y2="6.25" stroke="#555" stroke-width="0.7"/>
<line x1="251.2" y1="134.4" x2="251.2" y2="131.4" stroke="#555" stroke-width="0.7"/>
<line x1="272.7" y1="3.25" x2="272.7" y2="6.25" stroke="#555" stroke-width="0.7"/>
<line x1="272.7" y1="134.4" x2="272.7" y2="131.4" stroke="#555" stroke-width="0.7"/>
<line x1="165.2" y1="112.54" x2="168.2" y2="112.54" stroke="#555" stroke-width="0.7"/>
<line x1="283.4" y1="112.54" x2="280.4" y2="112.54" stroke="#555" stroke-width="0.7"/>
<line x1="165.2" y1="90.68" x2="168.2" y2="90.68" stroke="#555" stroke-width="0.7"/>
<line x1="283.4" y1="90.68" x2="280.4" y2="90.68" stroke="#555" stroke-width="0.7"/>
<line x1="165.2" y1="68.83" x2="168.2" y2="68.83" stroke="#555" stroke-width="0.7"/>
<line x1="283.4" y1="68.83" x2="280.4" y2="68.83" stroke="#555" stroke-width="0.7"/>
<line x1="165.2" y1="46.97" x2="168.2" y2="46.97" stroke="#555" stroke-width="0.7"/>
<line x1="283.4" y1="46.97" x2="280.4" y2="46.97" stroke="#555" stroke-width="0.7"/>
<line x1="165.2" y1="25.11" x2="168.2" y2="25.11" stroke="#555" stroke-width="0.7"/>
<line x1="283.4" y1="25.11" x2="280.4" y2="25.11" stroke="#555" stroke-width="0.7"/>
<line x1="186.7" y1="146.5" x2="186.7" y2="149.5" stroke="#555" stroke-width="0.7"/>
<line x1="186.7" y1="277.9" x2="186.7" y2="274.9" stroke="#555" stroke-width="0.7"/>
<line x1="208.2" y1="146.5" x2="208.2" y2="149.5" stroke="#555" stroke-width="0.7"/>
<line x1="208.2" y1="277.9" x2="208.2" y2="274.9" stroke="#555" stroke-width="0.7"/>
<line x1="229.7" y1="146.5" x2="229.7" y2="149.5" stroke="#555" stroke-width="0.7"/>
<line x1="229.7" y1="277.9" x2="229.7" y2="274.9" stroke="#555" stroke-width="0.7"/>
<line x1="251.2" y1="146.5" x2="251.2" y2="149.5" stroke="#555" stroke-width="0.7"/>
<line x1="251.2" y1="277.9" x2="251.2" y2="274.9" stroke="#555" stroke-width="0.7"/>
<line x1="272.7" y1="146.5" x2="272.7" y2="149.5" stroke="#555" stroke-width="0.7"/>
<line x1="272.7" y1="277.9" x2="272.7" y2="274.9" stroke="#555" stroke-width="0.7"/>
<line x1="165.2" y1="179.35" x2="168.2" y2="179.35" stroke="#555" stroke-width="0.7"/>
<line x1="283.4" y1="179.35" x2="280.4" y2="179.35" stroke="#555" stroke-width="0.7"/>
<line x1="165.2" y1="212.2" x2="168.2" y2="212.2" stroke="#555" stroke-width="0.7"/>
<line x1="283.4" y1="212.2" x2="280.4" y2="212.2" stroke="#555" stroke-width="0.7"/>
<line x1="165.2" y1="245.05" x2="168.2" y2="245.05" stroke="#555" stroke-width="0.7"/>
<line x1="283.4" y1="245.05" x2="280.4" y2="245.05" stroke="#555" stroke-width="0.7"/>
<line x1="186.7" y1="290.2" x2="186.7" y2="293.2" stroke="#555" stroke-width="0.7"/>
<line x1="186.7" y1="329.3" x2="186.7" y2="326.3" stroke="#555" stroke-width="0.7"/>
<line x1="208.2" y1="290.2" x2="208.2" y2="293.2" stroke="#555" stroke-width="0.7"/>
<line x1="208.2" y1="329.3" x2="208.2" y2="326.3" stroke="#555" stroke-width="0.7"/>
<line x1="229.7" y1="290.2" x2="229.7" y2="293.2" stroke="#555" stroke-width="0.7"/>
<line x1="229.7" y1="329.3" x2="229.7" y2="326.3" stroke="#555" stroke-width="0.7"/>
<line x1="251.2" y1="290.2" x2="251.2" y2="293.2" stroke="#555" stroke-width="0.7"/>
<line x1="251.2" y1="329.3" x2="251.2" y2="326.3" stroke="#555" stroke-width="0.7"/>
<line x1="272.7" y1="290.2" x2="272.7" y2="293.2" stroke="#555" stroke-width="0.7"/>
<line x1="272.7" y1="329.3" x2="272.7" y2="326.3" stroke="#555" stroke-width="0.7"/>
<line x1="165.2" y1="295.79" x2="168.2" y2="295.79" stroke="#555" stroke-width="0.7"/>
<line x1="283.4" y1="295.79" x2="280.4" y2="295.79" stroke="#555" stroke-width="0.7"/>
<line x1="165.2" y1="301.37" x2="168.2" y2="301.37" stroke="#555" stroke-width="0.7"/>
<line x1="283.4" y1="301.37" x2="280.4" y2="301.37" stroke="#555" stroke-width="0.7"/>
<line x1="165.2" y1="306.96" x2="168.2" y2="306.96" stroke="#555" stroke-width="0.7"/>
<line x1="283.4" y1="306.96" x2="280.4" y2="306.96" stroke="#555" stroke-width="0.7"/>
<line x1="165.2" y1="312.54" x2="168.2" y2="312.54" stroke="#555" stroke-width="0.7"/>
<line x1="283.4" y1="312.54" x2="280.4" y2="312.54" stroke="#555" stroke-width="0.7"/>
<line x1="165.2" y1="318.13" x2="168.2" y2="318.13" stroke="#555" stroke-width="0.7"/>
<line x1="283.4" y1="318.13" x2="280.4" y2="318.13" stroke="#555" stroke-width="0.7"/>
<line x1="165.2" y1="323.71" x2="168.2" y2="323.71" stroke="#555" stroke-width="0.7"/>
<line x1="283.4" y1="323.71" x2="280.4" y2="323.71" stroke="#555" stroke-width="0.7"/>
<line x1="301.99" y1="3.25" x2="301.99" y2="6.25" stroke="#555" stroke-width="0.7"/>
<line x1="301.99" y1="134.4" x2="301.99" y2="131.4" stroke="#555" stroke-width="0.7"/>
<line x1="310.47" y1="3.25" x2="310.47" y2="6.25" stroke="#555" stroke-width="0.7"/>
<line x1="310.47" y1="134.4" x2="310.47" y2="131.4" stroke="#555" stroke-width="0.7"/>
<line x1="318.96" y1="3.25" x2="318.96" y2="6.25" stroke="#555" stroke-width="0.7"/>
<line x1="318.96" y1="134.4" x2="318.96" y2="131.4" stroke="#555" stroke-width="0.7"/>
<line x1="327.44" y1="3.25" x2="327.44" y2="6.25" stroke="#555" stroke-width="0.7"/>
<line x1="327.44" y1="134.4" x2="327.44" y2="131.4" stroke="#555" stroke-width="0.7"/>
<line x1="335.93" y1="3.25" x2="335.93" y2="6.25" stroke="#555" stroke-width="0.7"/>
<line x1="335.93" y1="134.4" x2="335.93" y2="131.4" stroke="#555" stroke-width="0.7"/>
<line x1="344.41" y1="3.25" x2="344.41" y2="6.25" stroke="#555" stroke-width="0.7"/>
<line x1="344.41" y1="134.4" x2="344.41" y2="131.4" stroke="#555" stroke-width="0.7"/>
<line x1="293.5" y1="112.54" x2="296.5" y2="112.54" stroke="#555" stroke-width="0.7"/>
<line x1="352.9" y1="112.54" x2="349.9" y2="112.54" stroke="#555" stroke-width="0.7"/>
<line x1="293.5" y1="90.68" x2="296.5" y2="90.68" stroke="#555" stroke-width="0.7"/>
<line x1="352.9" y1="90.68" x2="349.9" y2="90.68" stroke="#555" stroke-width="0.7"/>
<line x1="293.5" y1="68.83" x2="296.5" y2="68.83" stroke="#555" stroke-width="0.7"/>
<line x1="352.9" y1="68.83" x2="349.9" y2="68.83" stroke="#555" stroke-width="0.7"/>
<line x1="293.5" y1="46.97" x2="296.5" y2="46.97" stroke="#555" stroke-width="0.7"/>
<line x1="352.9" y1="46.97" x2="349.9" y2="46.97" stroke="#555" stroke-width="0.7"/>
<line x1="293.5" y1="25.11" x2="296.5" y2="25.11" stroke="#555" stroke-width="0.7"/>
<line x1="352.9" y1="25.11" x2="349.9" y2="25.11" stroke="#555" stroke-width="0.7"/>
<line x1="301.99" y1="146.5" x2="301.99" y2="149.5" stroke="#555" stroke-width="0.7"/>
<line x1="301.99" y1="277.9" x2="301.99" y2="274.9" stroke="#555" stroke-width="0.7"/>
<line x1="310.47" y1="146.5" x2="310.47" y2="149.5" stroke="#555" stroke-width="0.7"/>
<line x1="310.47" y1="277.9" x2="310.47" y2="274.9" stroke="#555" stroke-width="0.7"/>
<line x1="318.96" y1="146.5" x2="318.96" y2="149.5" stroke="#555" stroke-width="0.7"/>
<line x1="318.96" y1="277.9" x2="318.96" y2="274.9" stroke="#555" stroke-width="0.7"/>
<line x1="327.44" y1="146.5" x2="327.44" y2="149.5" stroke="#555" stroke-width="0.7"/>
<line x1="327.44" y1="277.9" x2="327.44" y2="274.9" stroke="#555" stroke-width="0.7"/>
<line x1="335.93" y1="146.5" x2="335.93" y2="149.5" stroke="#555" stroke-width="0.7"/>
<line x1="335.93" y1="277.9" x2="335.93" y2="274.9" stroke="#555" stroke-width="0.7"/>
<line x1="344.41" y1="146.5" x2="344.41" y2="149.5" stroke="#555" stroke-width="0.7"/>
<line x1="344.41" y1="277.9" x2="344.41" y2="274.9" stroke="#555" stroke-width="0.7"/>
<line x1="293.5" y1="162.93" x2="296.5" y2="162.93" stroke="#555" stroke-width="0.7"/>
<line x1="352.9" y1="162.93" x2="349.9" y2="162.93" stroke="#555" stroke-width="0.7"/>
<line x1="293.5" y1="179.35" x2="296.5" y2="179.35" stroke="#555" stroke-width="0.7"/>
<line x1="352.9" y1="179.35" x2="349.9" y2="179.35" stroke="#555" stroke-width="0.7"/>
<line x1="293.5" y1="195.78" x2="296.5" y2="195.78" stroke="#555" stroke-width="0.7"/>
<line x1="352.9" y1="195.78" x2="349.9" y2="195.78" stroke="#555" stroke-width="0.7"/>
<line x1="293.5" y1="212.2" x2="296.5" y2="212.2" stroke="#555" stroke-width="0.7"/>
<line x1="352.9" y1="212.2" x2="349.9" y2="212.2" stroke="#555" stroke-width="0.7"/>
<line x1="293.5" y1="228.62" x2="296.5" y2="228.62" stroke="#555" stroke-width="0.7"/>
<line x1="352.9" y1="228.62" x2="349.9" y2="228.62" stroke="#555" stroke-width="0.7"/>
<line x1="293.5" y1="245.05" x2="296.5" y2="245.05" stroke="#555" stroke-width="0.7"/>
<line x1="352.9" y1="245.05" x2="349.9" y2="245.05" stroke="#555" stroke-width="0.7"/>
<line x1="293.5" y1="261.48" x2="296.5" y2="261.48" stroke="#555" stroke-width="0.7"/>
<line x1="352.9" y1="261.48" x2="349.9" y2="261.48" stroke="#555" stroke-width="0.7"/>
<rect x="37" y="3.25" width="118.2" height="131.15" fill="none" stroke="#8c8c8c" stroke-width="1.0"/>
<rect x="165.2" y="3.25" width="118.2" height="131.15" fill="none" stroke="#8c8c8c" stroke-width="1.0"/>
<rect x="293.5" y="3.25" width="59.4" height="131.15" fill="none" stroke="#8c8c8c" stroke-width="1.0"/>
<rect x="37" y="146.5" width="118.2" height="131.4" fill="none" stroke="#8c8c8c" stroke-width="1.0"/>
<rect x="165.2" y="146.5" width="118.2" height="131.4" fill="none" stroke="#8c8c8c" stroke-width="1.0"/>
<rect x="293.5" y="146.5" width="59.4" height="131.4" fill="none" stroke="#8c8c8c" stroke-width="1.0"/>
<rect x="37" y="290.2" width="118.2" height="39.1" fill="none" stroke="#8c8c8c" stroke-width="1.0"/>
<rect x="165.2" y="290.2" width="118.2" height="39.1" fill="none" stroke="#8c8c8c" stroke-width="1.0"/>
<g font-family="'Liberation Serif', serif" fill="#1a1a1a" stroke="#1a1a1a" stroke-width="0.15">
<text x="34.3" y="136.7" font-size="7.0" text-anchor="end">20</text>
<text x="34.3" y="114.84" font-size="7.0" text-anchor="end">30</text>
<text x="34.3" y="92.98" font-size="7.0" text-anchor="end">40</text>
<text x="34.3" y="71.12" font-size="7.0" text-anchor="end">50</text>
<text x="34.3" y="49.27" font-size="7.0" text-anchor="end">60</text>
<text x="34.3" y="27.41" font-size="7.0" text-anchor="end">70</text>
<text x="34.3" y="5.55" font-size="7.0" text-anchor="end">80</text>
<text x="33.9" y="148.8" font-size="7.0" text-anchor="end">18.5</text>
<text x="16.4" y="148.8" font-size="7.0" text-anchor="start" textLength="4.4" lengthAdjust="spacingAndGlyphs">−</text>
<text x="33.9" y="181.65" font-size="7.0" text-anchor="end">17.5</text>
<text x="16.4" y="181.65" font-size="7.0" text-anchor="start" textLength="4.4" lengthAdjust="spacingAndGlyphs">−</text>
<text x="33.9" y="214.5" font-size="7.0" text-anchor="end">16.5</text>
<text x="16.4" y="214.5" font-size="7.0" text-anchor="start" textLength="4.4" lengthAdjust="spacingAndGlyphs">−</text>
<text x="33.9" y="247.35" font-size="7.0" text-anchor="end">15.5</text>
<text x="16.4" y="247.35" font-size="7.0" text-anchor="start" textLength="4.4" lengthAdjust="spacingAndGlyphs">−</text>
<text x="33.9" y="280.2" font-size="7.0" text-anchor="end">14.5</text>
<text x="16.4" y="280.2" font-size="7.0" text-anchor="start" textLength="4.4" lengthAdjust="spacingAndGlyphs">−</text>
<text x="34.3" y="291.7" font-size="7.0" text-anchor="end">0</text>
<text x="34.3" y="297.29" font-size="7.0" text-anchor="end">2</text>
<text x="34.3" y="302.87" font-size="7.0" text-anchor="end">4</text>
<text x="34.3" y="308.46" font-size="7.0" text-anchor="end">6</text>
<text x="34.3" y="314.04" font-size="7.0" text-anchor="end">8</text>
<text x="34.3" y="319.63" font-size="7.0" text-anchor="end">10</text>
<text x="34.3" y="325.21" font-size="7.0" text-anchor="end">12</text>
<text x="34.3" y="330.8" font-size="7.0" text-anchor="end">14</text>
<text x="36.8" y="337.4" font-size="7.0" text-anchor="middle" textLength="12" lengthAdjust="spacingAndGlyphs">0.00</text>
<text x="58.3" y="337.4" font-size="7.0" text-anchor="middle" textLength="12" lengthAdjust="spacingAndGlyphs">0.02</text>
<text x="79.8" y="337.4" font-size="7.0" text-anchor="middle" textLength="12" lengthAdjust="spacingAndGlyphs">0.04</text>
<text x="101.3" y="337.4" font-size="7.0" text-anchor="middle" textLength="12" lengthAdjust="spacingAndGlyphs">0.06</text>
<text x="122.8" y="337.4" font-size="7.0" text-anchor="middle" textLength="12" lengthAdjust="spacingAndGlyphs">0.08</text>
<text x="144.3" y="337.4" font-size="7.0" text-anchor="middle" textLength="12" lengthAdjust="spacingAndGlyphs">0.10</text>
<text x="165" y="337.4" font-size="7.0" text-anchor="middle" textLength="12" lengthAdjust="spacingAndGlyphs">0.00</text>
<text x="186.5" y="337.4" font-size="7.0" text-anchor="middle" textLength="12" lengthAdjust="spacingAndGlyphs">0.02</text>
<text x="208" y="337.4" font-size="7.0" text-anchor="middle" textLength="12" lengthAdjust="spacingAndGlyphs">0.04</text>
<text x="229.5" y="337.4" font-size="7.0" text-anchor="middle" textLength="12" lengthAdjust="spacingAndGlyphs">0.06</text>
<text x="251" y="337.4" font-size="7.0" text-anchor="middle" textLength="12" lengthAdjust="spacingAndGlyphs">0.08</text>
<text x="272.5" y="337.4" font-size="7.0" text-anchor="middle" textLength="12" lengthAdjust="spacingAndGlyphs">0.10</text>
<text x="293.5" y="286.2" font-size="7.0" text-anchor="middle">0</text>
<text x="301.99" y="286.2" font-size="7.0" text-anchor="middle">2</text>
<text x="310.47" y="286.2" font-size="7.0" text-anchor="middle">4</text>
<text x="318.96" y="286.2" font-size="7.0" text-anchor="middle">6</text>
<text x="327.44" y="286.2" font-size="7.0" text-anchor="middle">8</text>
<text x="335.93" y="286.2" font-size="7.0" text-anchor="middle">10</text>
<text x="344.41" y="286.2" font-size="7.0" text-anchor="middle">12</text>
<text x="352.9" y="286.2" font-size="7.0" text-anchor="middle">14</text>
</g>
<g font-family="'Liberation Serif', serif" fill="#111" stroke="#111" stroke-width="0.18">
<text x="101.8" y="90.1" font-size="9.8" text-anchor="start" textLength="17.6" lengthAdjust="spacingAndGlyphs">n=3</text>
<text x="101.6" y="99.6" font-size="9.8" font-style="italic">ρ</text>
<text x="110" y="99.6" font-size="9.8" textLength="7.0" lengthAdjust="spacingAndGlyphs">=</text>
<text x="119.8" y="99.6" font-size="9.8" textLength="17.4" lengthAdjust="spacingAndGlyphs">0.87</text>
<text x="101.8" y="110.4" font-size="9.8" text-anchor="start" textLength="31" lengthAdjust="spacingAndGlyphs">P=0.33</text>
<text x="230.1" y="90.1" font-size="9.8" text-anchor="start" textLength="22.2" lengthAdjust="spacingAndGlyphs">n=14</text>
<text x="229.9" y="99.6" font-size="9.8" font-style="italic">ρ</text>
<text x="238.3" y="99.6" font-size="9.8" textLength="7.0" lengthAdjust="spacingAndGlyphs">=</text>
<text x="248.1" y="99.6" font-size="9.8" textLength="17.4" lengthAdjust="spacingAndGlyphs">0.07</text>
<text x="230.1" y="110.4" font-size="9.8" text-anchor="start" textLength="31.6" lengthAdjust="spacingAndGlyphs">P=0.82</text>
<text x="101.8" y="236" font-size="9.8" text-anchor="start" textLength="22.2" lengthAdjust="spacingAndGlyphs">n=14</text>
<text x="101.6" y="245.2" font-size="9.8" font-style="italic">ρ</text>
<text x="110" y="245.2" font-size="9.8" textLength="7.0" lengthAdjust="spacingAndGlyphs">=</text>
<text x="119.6" y="245.2" font-size="9.8" textLength="7.2" lengthAdjust="spacingAndGlyphs">−</text>
<text x="126.5" y="245.2" font-size="9.8" textLength="17.4" lengthAdjust="spacingAndGlyphs">0.82</text>
<text x="101.8" y="257.9" font-size="9.8" text-anchor="start" textLength="38.4" lengthAdjust="spacingAndGlyphs">P=3.1e-4</text>
<text x="230" y="236" font-size="9.8" text-anchor="start" textLength="22.2" lengthAdjust="spacingAndGlyphs">n=41</text>
<text x="229.8" y="245.2" font-size="9.8" font-style="italic">ρ</text>
<text x="238.2" y="245.2" font-size="9.8" textLength="7.0" lengthAdjust="spacingAndGlyphs">=</text>
<text x="247.8" y="245.2" font-size="9.8" textLength="7.2" lengthAdjust="spacingAndGlyphs">−</text>
<text x="254.7" y="245.2" font-size="9.8" textLength="17.4" lengthAdjust="spacingAndGlyphs">0.60</text>
<text x="230" y="257.9" font-size="9.8" text-anchor="start" textLength="42.7" lengthAdjust="spacingAndGlyphs">P=2.96e-5</text>
</g>
<g font-family="'Liberation Serif', serif" fill="#111" stroke="#111" stroke-width="0.12">
<text transform="translate(19.8,91.0) rotate(-90)" font-size="11.2" textLength="44.2" lengthAdjust="spacingAndGlyphs">Pd [days]</text>
<text transform="translate(8.6,239.8) rotate(-90)" font-size="11.2" textLength="11.3" lengthAdjust="spacingAndGlyphs">M</text>
<text transform="translate(10.8,227.9) rotate(-90)" font-size="7.6" font-style="italic" textLength="12.6" lengthAdjust="spacingAndGlyphs">max</text>
<text transform="translate(8.6,211.0) rotate(-90)" font-size="11.2" textLength="27.0" lengthAdjust="spacingAndGlyphs">[mag]</text>
<text x="60" y="346.4" font-size="7.4" textLength="7.0" lengthAdjust="spacingAndGlyphs">56</text>
<text x="67.6" y="349.7" font-size="11.2" textLength="55.8" lengthAdjust="spacingAndGlyphs">Ni mass [M</text>
<circle cx="125.8" cy="349.4" r="2.1" fill="none" stroke="#111" stroke-width="0.55"/>
<circle cx="125.8" cy="349.4" r="0.45" fill="#111"/>
<text x="128.3" y="349.7" font-size="11.2" textLength="3.2" lengthAdjust="spacingAndGlyphs">]</text>
<text x="158.4" y="346.4" font-size="7.4" textLength="7.0" lengthAdjust="spacingAndGlyphs">56</text>
<text x="166" y="349.7" font-size="11.2" textLength="55.8" lengthAdjust="spacingAndGlyphs">Ni mass [M</text>
<circle cx="224.2" cy="349.4" r="2.1" fill="none" stroke="#111" stroke-width="0.55"/>
<circle cx="224.2" cy="349.4" r="0.45" fill="#111"/>
<text x="226.7" y="349.7" font-size="11.2" textLength="3.2" lengthAdjust="spacingAndGlyphs">]</text>
<text x="232" y="349.7" font-size="11.2" textLength="58.4" lengthAdjust="spacingAndGlyphs">lower limits</text>
<text x="299.0" y="298.5" font-size="11.2" textLength="48.3" lengthAdjust="spacingAndGlyphs">Frequency</text>
</g>
</g></svg>
</body></html>
